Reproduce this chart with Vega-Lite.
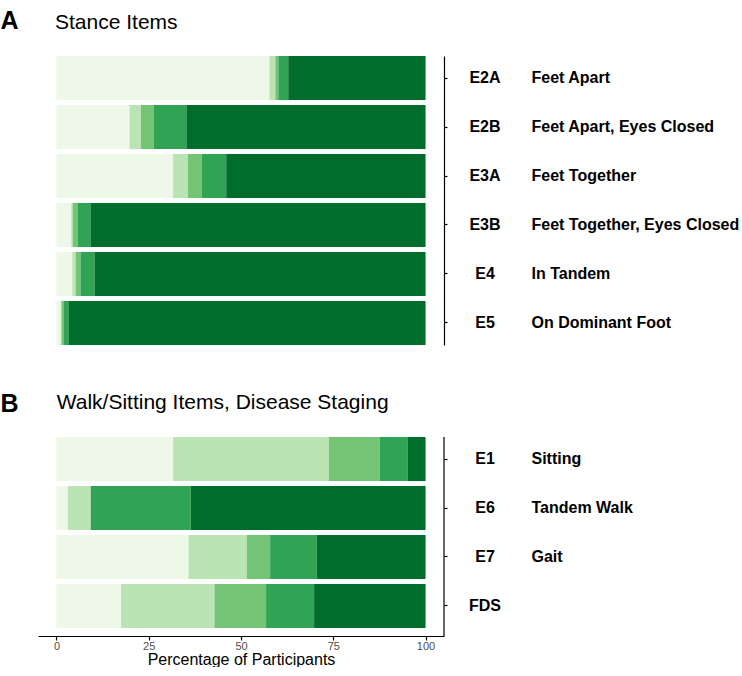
{
  "$schema": "https://vega.github.io/schema/vega-lite/v6.json",
  "padding": {"left": 0, "top": 8, "right": 0, "bottom": 0},
  "background": "white",
  "config": {"view": {"stroke": null}, "font": "Liberation Sans"},
  "spacing": 46,
  "datasets": {
    "bars": [
      {"panel": "A", "code": "E2A", "cat": 1, "pct": 57.7},
      {"panel": "A", "code": "E2A", "cat": 2, "pct": 1.6},
      {"panel": "A", "code": "E2A", "cat": 3, "pct": 0.8},
      {"panel": "A", "code": "E2A", "cat": 4, "pct": 2.7},
      {"panel": "A", "code": "E2A", "cat": 5, "pct": 37.2},
      {"panel": "A", "code": "E2B", "cat": 1, "pct": 19.8},
      {"panel": "A", "code": "E2B", "cat": 2, "pct": 3.1},
      {"panel": "A", "code": "E2B", "cat": 3, "pct": 3.5},
      {"panel": "A", "code": "E2B", "cat": 4, "pct": 8.8},
      {"panel": "A", "code": "E2B", "cat": 5, "pct": 64.8},
      {"panel": "A", "code": "E3A", "cat": 1, "pct": 31.6},
      {"panel": "A", "code": "E3A", "cat": 2, "pct": 4.0},
      {"panel": "A", "code": "E3A", "cat": 3, "pct": 3.8},
      {"panel": "A", "code": "E3A", "cat": 4, "pct": 6.6},
      {"panel": "A", "code": "E3A", "cat": 5, "pct": 54.0},
      {"panel": "A", "code": "E3B", "cat": 1, "pct": 4.0},
      {"panel": "A", "code": "E3B", "cat": 2, "pct": 0.4},
      {"panel": "A", "code": "E3B", "cat": 3, "pct": 1.3},
      {"panel": "A", "code": "E3B", "cat": 4, "pct": 3.5},
      {"panel": "A", "code": "E3B", "cat": 5, "pct": 90.8},
      {"panel": "A", "code": "E4", "cat": 1, "pct": 4.3},
      {"panel": "A", "code": "E4", "cat": 2, "pct": 0.9},
      {"panel": "A", "code": "E4", "cat": 3, "pct": 1.3},
      {"panel": "A", "code": "E4", "cat": 4, "pct": 3.8},
      {"panel": "A", "code": "E4", "cat": 5, "pct": 89.7},
      {"panel": "A", "code": "E5", "cat": 1, "pct": 1.1},
      {"panel": "A", "code": "E5", "cat": 2, "pct": 0.3},
      {"panel": "A", "code": "E5", "cat": 3, "pct": 0.5},
      {"panel": "A", "code": "E5", "cat": 4, "pct": 1.5},
      {"panel": "A", "code": "E5", "cat": 5, "pct": 96.6},
      {"panel": "B", "code": "E1", "cat": 1, "pct": 31.6},
      {"panel": "B", "code": "E1", "cat": 2, "pct": 42.2},
      {"panel": "B", "code": "E1", "cat": 3, "pct": 13.8},
      {"panel": "B", "code": "E1", "cat": 4, "pct": 7.5},
      {"panel": "B", "code": "E1", "cat": 5, "pct": 4.9},
      {"panel": "B", "code": "E6", "cat": 1, "pct": 3.1},
      {"panel": "B", "code": "E6", "cat": 2, "pct": 6.2},
      {"panel": "B", "code": "E6", "cat": 3, "pct": 0.0},
      {"panel": "B", "code": "E6", "cat": 4, "pct": 27.1},
      {"panel": "B", "code": "E6", "cat": 5, "pct": 63.6},
      {"panel": "B", "code": "E7", "cat": 1, "pct": 35.8},
      {"panel": "B", "code": "E7", "cat": 2, "pct": 15.8},
      {"panel": "B", "code": "E7", "cat": 3, "pct": 6.3},
      {"panel": "B", "code": "E7", "cat": 4, "pct": 12.6},
      {"panel": "B", "code": "E7", "cat": 5, "pct": 29.5},
      {"panel": "B", "code": "FDS", "cat": 1, "pct": 17.5},
      {"panel": "B", "code": "FDS", "cat": 2, "pct": 25.3},
      {"panel": "B", "code": "FDS", "cat": 3, "pct": 14.0},
      {"panel": "B", "code": "FDS", "cat": 4, "pct": 13.0},
      {"panel": "B", "code": "FDS", "cat": 5, "pct": 30.2}
    ],
    "items": [
      {"panel": "A", "code": "E2A", "desc": "Feet Apart"},
      {"panel": "A", "code": "E2B", "desc": "Feet Apart, Eyes Closed"},
      {"panel": "A", "code": "E3A", "desc": "Feet Together"},
      {"panel": "A", "code": "E3B", "desc": "Feet Together, Eyes Closed"},
      {"panel": "A", "code": "E4", "desc": "In Tandem"},
      {"panel": "A", "code": "E5", "desc": "On Dominant Foot"},
      {"panel": "B", "code": "E1", "desc": "Sitting"},
      {"panel": "B", "code": "E6", "desc": "Tandem Walk"},
      {"panel": "B", "code": "E7", "desc": "Gait"},
      {"panel": "B", "code": "FDS", "desc": ""}
    ],
    "one": [{"k": 1}]
  },
  "vconcat": [
    {
      "width": 406,
      "height": 289,
      "title": {"text": "Stance Items", "anchor": "start", "frame": "group", "dx": 17, "fontSize": 21, "fontWeight": "normal", "font": "Liberation Sans", "color": "black", "baseline": "alphabetic", "offset": -42},
      "layer": [
        {
          "data": {"name": "bars"},
          "transform": [{"filter": "datum.panel === 'A'"}],
          "mark": {"type": "bar"},
          "encoding": {
            "y": {"field": "code", "type": "nominal", "sort": ["E2A", "E2B", "E3A", "E3B", "E4", "E5"],
              "scale": {"paddingInner": 0.1, "paddingOuter": 0},
              "axis": {"orient": "right", "title": "A", "titleAngle": 0, "titleX": -444, "titleY": -28, "titleAlign": "left", "titleBaseline": "alphabetic", "titleFontSize": 25, "titleFontWeight": "bold", "titleColor": "black", "titleFont": "Liberation Sans",
                "labelFontSize": 16, "labelFontWeight": "bold", "labelColor": "black", "labelAlign": "center", "labelPadding": 37.5, "labelFont": "Liberation Sans",
                "tickSize": 3, "tickColor": "black", "tickWidth": 1.2, "domainColor": "black", "domainWidth": 1.2}},
            "x": {"field": "pct", "type": "quantitative", "stack": "zero", "scale": {"domain": [-5, 105], "nice": false, "zero": false}, "axis": null},
            "color": {"field": "cat", "type": "ordinal", "scale": {"domain": [1, 2, 3, 4, 5], "range": ["#edf8e9", "#bae4b3", "#74c476", "#31a354", "#006d2c"]}, "legend": null},
            "order": {"field": "cat", "type": "quantitative", "sort": "ascending"}
          }
        },
        {
          "data": {"name": "items"},
          "transform": [{"filter": "datum.panel === 'A'"}],
          "mark": {"type": "text", "align": "left", "baseline": "middle", "dx": 87.5, "fontWeight": "bold", "fontSize": 16, "font": "Liberation Sans", "color": "black"},
          "encoding": {
            "y": {"field": "code", "type": "nominal", "sort": ["E2A", "E2B", "E3A", "E3B", "E4", "E5"]},
            "x": {"datum": 105},
            "text": {"field": "desc"}
          }
        }
      ]
    },
    {
      "width": 406,
      "height": 199,
      "title": {"text": "Walk/Sitting Items, Disease Staging", "anchor": "start", "frame": "group", "dx": 18.7, "fontSize": 21, "fontWeight": "normal", "font": "Liberation Sans", "color": "black", "baseline": "alphabetic", "offset": -39},
      "layer": [
        {
          "data": {"name": "bars"},
          "transform": [{"filter": "datum.panel === 'B'"}],
          "mark": {"type": "bar"},
          "encoding": {
            "y": {"field": "code", "type": "nominal", "sort": ["E1", "E6", "E7", "FDS"],
              "scale": {"paddingInner": 0.1, "paddingOuter": 0, "range": [0, 191]},
              "axis": {"orient": "right", "title": "B", "titleAngle": 0, "titleX": -444, "titleY": -26, "titleAlign": "left", "titleBaseline": "alphabetic", "titleFontSize": 25, "titleFontWeight": "bold", "titleColor": "black", "titleFont": "Liberation Sans",
                "labelFontSize": 16, "labelFontWeight": "bold", "labelColor": "black", "labelAlign": "center", "labelPadding": 37.5, "labelFont": "Liberation Sans",
                "tickSize": 3, "tickColor": "black", "tickWidth": 1.2, "domain": false}},
            "x": {"field": "pct", "type": "quantitative", "stack": "zero", "scale": {"domain": [-5, 105], "nice": false, "zero": false},
              "axis": {"orient": "bottom", "values": [0, 25, 50, 75, 100], "title": "Percentage of Participants", "titleFontSize": 16, "titleFontWeight": "normal", "titleColor": "black", "titleFont": "Liberation Sans", "titlePadding": 0,
                "labelFontSize": 11, "labelColor": "#4d4d4d", "labelPadding": 0, "labelFont": "Liberation Sans", "grid": false,
                "tickSize": 4, "tickColor": "black", "tickWidth": 1.2, "domainColor": "black", "domainWidth": 1.2}},
            "color": {"field": "cat", "type": "ordinal", "scale": {"domain": [1, 2, 3, 4, 5], "range": ["#edf8e9", "#bae4b3", "#74c476", "#31a354", "#006d2c"]}, "legend": null},
            "order": {"field": "cat", "type": "quantitative", "sort": "ascending"}
          }
        },
        {
          "data": {"name": "items"},
          "transform": [{"filter": "datum.panel === 'B'"}],
          "mark": {"type": "text", "align": "left", "baseline": "middle", "dx": 87.5, "fontWeight": "bold", "fontSize": 16, "font": "Liberation Sans", "color": "black"},
          "encoding": {
            "y": {"field": "code", "type": "nominal", "sort": ["E1", "E6", "E7", "FDS"]},
            "x": {"datum": 105},
            "text": {"field": "desc"}
          }
        },
        {
          "data": {"name": "one"},
          "mark": {"type": "rule", "color": "black", "strokeWidth": 1.2},
          "encoding": {"x": {"datum": 105}}
        }
      ]
    }
  ]
}
